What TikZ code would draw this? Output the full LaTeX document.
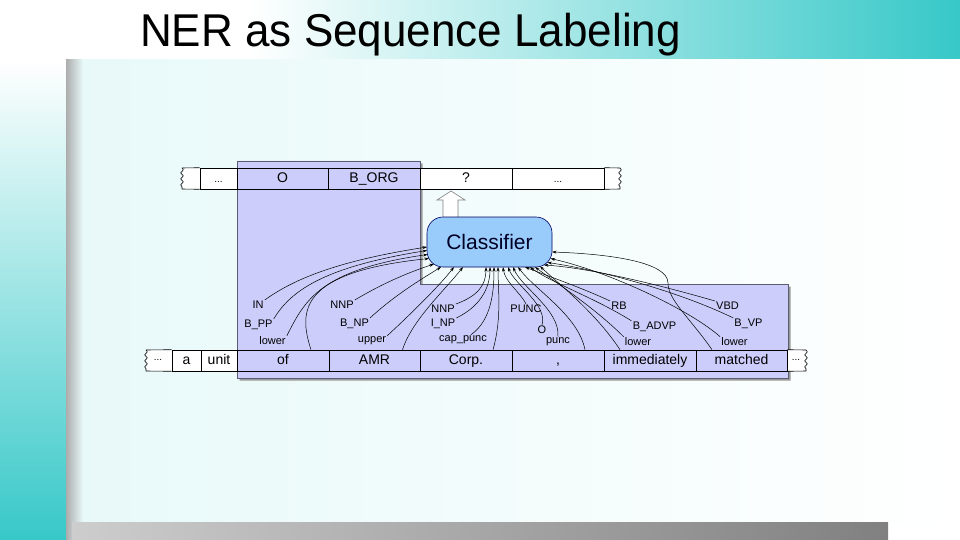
\documentclass[tikz,border=0pt]{standalone}
\usepackage{fontspec}
\setmainfont{Liberation Sans}
\usetikzlibrary{arrows.meta,calc,decorations.pathmorphing}
\definecolor{tealc}{RGB}{55,200,200}
\definecolor{bgc}{RGB}{232,249,249}
\definecolor{winblue}{RGB}{204,205,250}
\definecolor{clsblue}{RGB}{153,204,250}
\tikzset{
 cell/.style={draw=black, line width=0.6pt, minimum height=21pt, inner sep=0pt, text height=10pt, text depth=2.5pt, font=\fontsize{14}{16}\selectfont, anchor=center},
 lbl/.style={font=\fontsize{11}{13}\selectfont, inner sep=1pt},
 feat/.style={line width=0.5pt, -{Stealth[length=4.5pt,width=3pt]}},
 sq/.style={decorate, decoration={snake, amplitude=1.3pt, segment length=6pt}, line width=0.6pt},
 dotsfont/.style={font=\fontsize{10}{12}\selectfont}
}
\begin{document}
\begin{tikzpicture}[x=1pt,y=-1pt]
\useasboundingbox (0,0) rectangle (960,540);
% background
\fill[white] (0,0) rectangle (960,540);
\shade[left color=white, right color=tealc] (250,0) rectangle (960,60);
\shade[top color=white, bottom color=tealc] (0,60) rectangle (66,540);
\shade[left color=bgc, right color=white] (72,60) rectangle (960,522);
\shade[left color=gray!65, right color=bgc] (66,60) rectangle (83,540);
\shade[left color={rgb,255:red,205;green,205;blue,205}, right color={rgb,255:red,128;green,128;blue,128}] (72,522) rectangle (888,540);
% title
\node[anchor=base west, inner sep=0pt, font=\fontsize{46}{50}\selectfont] (title) at (140,47) {\scalebox{0.957}[1]{NER as Sequence Labeling}};
% window region
\fill[gray!80] (239.5,163.5) -- (422.5,163.5) -- (422.5,286.5) -- (790.5,286.5) -- (790.5,380.5) -- (239.5,380.5) -- cycle;
\filldraw[fill=winblue, draw=winblue!45!black, line width=0.5pt] (237,161) -- (420,161) -- (420,284) -- (788,284) -- (788,378) -- (237,378) -- cycle;
% top row
\fill[white] (182,168) rectangle (200,189);
\fill[white] (604,168) rectangle (620,189);
\node[cell, fill=white, minimum width=37pt, dotsfont] (tdots) at (218.5,178.5) {...};
\node[cell, minimum width=91pt] (tO) at (282.5,178.5) {O};
\node[cell, minimum width=92pt] (tBORG) at (374,178.5) {B\_ORG};
\node[cell, fill=white, minimum width=92pt] (tq) at (466,178.5) {?};
\node[cell, fill=white, minimum width=92pt, dotsfont] (tdots2) at (558,178.5) {...};
\coordinate (tl0) at (182,168); \coordinate (tl1) at (182,189);
\coordinate (tr0) at (620,168); \coordinate (tr1) at (620,189);
\draw[line width=0.6pt] (tl0) -- (tdots.north west) (tl1) -- (tdots.south west);
\draw[line width=0.6pt] (tr0) -- (tdots2.north east) (tr1) -- (tdots2.south east);
\draw[sq] (tl0) -- (tl1);
\draw[sq] (tr0) -- (tr1);
% bottom row
\fill[white] (146,350) rectangle (172,371);
\fill[white] (787,350) rectangle (806,371);
\node[dotsfont, inner sep=0pt] (bdots) at (158,360) {...};
\node[dotsfont, inner sep=0pt] (bdots2) at (796,360) {...};
\node[cell, fill=white, minimum width=29pt] (ba) at (186.5,360.5) {a};
\node[cell, fill=white, minimum width=36pt] (bunit) at (219,360.5) {unit};
\node[cell, minimum width=92pt] (bof) at (283,360.5) {of};
\node[cell, minimum width=91pt] (bAMR) at (374.5,360.5) {AMR};
\node[cell, minimum width=92pt] (bCorp) at (466,360.5) {Corp.};
\node[cell, minimum width=92pt] (bcomma) at (558,360.5) {,};
\node[cell, minimum width=92pt] (bimm) at (650,360.5) {immediately};
\node[cell, minimum width=91pt] (bmatch) at (741.5,360.5) {matched};
\coordinate (bl0) at (146,350); \coordinate (bl1) at (146,371);
\coordinate (br0) at (806,350); \coordinate (br1) at (806,371);
\draw[line width=0.6pt] (bl0) -- (ba.north west) (bl1) -- (ba.south west);
\draw[line width=0.6pt] (br0) -- (bmatch.north east) (br1) -- (bmatch.south east);
\draw[sq] (bl0) -- (bl1);
\draw[sq] (br0) -- (br1);
% up arrow
\filldraw[fill=white, draw=gray, line width=0.6pt] (443,220) -- (443,200) -- (437,200) -- (451,191) -- (465,200) -- (458,200) -- (458,220) -- cycle;
% classifier
\node[draw=black!60!blue, line width=0.6pt, fill=clsblue, rounded corners=16pt, minimum width=125pt, minimum height=50pt, inner sep=0pt, text=black!85!blue, font=\fontsize{21}{24}\selectfont] (cls) at (489.5,242) {Classifier};
% labels
\node[lbl] (lIN) at (258,305) {IN};
\node[lbl] (lBPP) at (258.5,325) {B\_PP};
\node[lbl] (llowa) at (272.5,341) {lower};
\node[lbl] (lNNPa) at (342,305) {NNP};
\node[lbl] (lBNP) at (354.5,324) {B\_NP};
\node[lbl] (lupper) at (372,341) {upper};
\node[lbl] (lNNPb) at (443,309) {NNP};
\node[lbl] (lINP) at (443,324) {I\_NP};
\node[lbl] (lcap) at (463,340) {cap\_punc};
\node[lbl] (lPUNC) at (526,309) {PUNC};
\node[lbl] (lO) at (542,330) {O};
\node[lbl] (lpunc) at (558,342) {punc};
\node[lbl] (lRB) at (619,306) {RB};
\node[lbl] (lBADVP) at (654.5,327) {B\_ADVP};
\node[lbl] (llowb) at (638,342) {lower};
\node[lbl] (lVBD) at (727.5,306) {VBD};
\node[lbl] (lBVP) at (748.5,324) {B\_VP};
\node[lbl] (llowc) at (734.5,342) {lower};
% targets on classifier border
\coordinate (ta1) at (427,247);
\coordinate (ta2) at (427,250.5);
\coordinate (ta3) at (427.6,254.5);
\coordinate (ta4) at (429,258.5);
\coordinate (tb1) at (434,264);
\coordinate (tb2) at (441,267);
\coordinate (tb3) at (454,267);
\coordinate (tb4) at (463,267);
\coordinate (tc1) at (486,267);
\coordinate (tc2) at (490,267);
\coordinate (tc3) at (494,267);
\coordinate (tc4) at (498,267);
\coordinate (td1) at (503,267);
\coordinate (td2) at (508,267);
\coordinate (td3) at (513,267);
\coordinate (td4) at (518,267);
\coordinate (te1) at (525,267);
\coordinate (te2) at (530,267);
\coordinate (te3) at (535,267);
\coordinate (te4) at (540,266.3);
\coordinate (tf1) at (544,265);
\coordinate (tf2) at (547.5,262.5);
\coordinate (tf3) at (550.5,258.5);
\coordinate (tf4) at (552,252);
% feature connectors
\draw[feat] (lIN.north east) .. controls (290,282) and (330,262) .. (ta1);
\draw[feat] (lBPP.north east) .. controls (292,288) and (330,266) .. (ta2);
\draw[feat] (llowa.north east) .. controls (305,300) and (320,270) .. (ta3);
\draw[feat] ($(bof.north)+(28,0)$) .. controls (298,310) and (300,272) .. (ta4);
\draw[feat] (lNNPa.north east) .. controls (385,282) and (410,272) .. (tb1);
\draw[feat] (lBNP.north east) .. controls (395,295) and (420,280) .. (tb2);
\draw[feat] (lupper.north east) .. controls (415,310) and (440,285) .. (tb3);
\draw[feat] ($(bAMR.north)+(28,0)$) .. controls (412,320) and (445,290) .. (tb4);
\draw[feat] (lNNPb.north east) .. controls (478,296) and (486,285) .. (tc1);
\draw[feat] (lINP.north east) .. controls (483,305) and (490,285) .. (tc2);
\draw[feat] ($(lcap.north)+(8,0)$) .. controls (492,320) and (494,290) .. (tc3);
\draw[feat] ($(bCorp.north)+(27,0)$) .. controls (502,318) and (498,290) .. (tc4);
\draw[feat] (lPUNC.north) .. controls (520,292) and (505,282) .. (td1);
\draw[feat] (lO.north) .. controls (548,305) and (515,285) .. (td2);
\draw[feat] (lpunc.north) .. controls (560,310) and (522,288) .. (td3);
\draw[feat] ($(bcomma.north)+(27,0)$) .. controls (578,315) and (535,290) .. (td4);
\draw[feat] (lRB.north west) .. controls (580,287) and (545,275) .. (te1);
\draw[feat] (lBADVP.north west) .. controls (595,298) and (550,282) .. (te2);
\draw[feat] (llowb.north west) .. controls (595,308) and (555,282) .. (te3);
\draw[feat] ($(bimm.north)+(-30,0)$) .. controls (595,312) and (560,285) .. (te4);
\draw[feat] (lVBD.north west) .. controls (660,285) and (590,268) .. (tf1);
\draw[feat] (lBVP.north west) .. controls (680,292) and (600,270) .. (tf2);
\draw[feat] (llowc.north west) .. controls (690,310) and (610,272) .. (tf3);
\draw[feat] ($(bmatch.north)+(-29.5,0)$) .. controls (690,318) and (668,300) .. (668,283) .. controls (668,262) and (610,254) .. (tf4);
\end{tikzpicture}
\end{document}
